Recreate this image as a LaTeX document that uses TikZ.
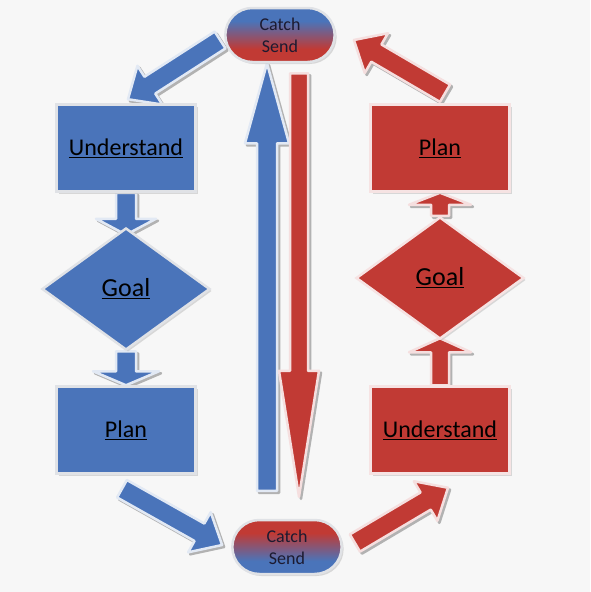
\documentclass[tikz,border=0pt]{standalone}
\usepackage{fontspec}
\setmainfont{Carlito}
\usetikzlibrary{calc,positioning,shapes.geometric,shapes.misc,shadows}

\definecolor{boxblue}{RGB}{74,116,186}
\definecolor{boxred}{RGB}{193,58,52}
\definecolor{edgegray}{RGB}{224,226,230}
\definecolor{inkdark}{RGB}{28,26,48}
\definecolor{paper}{RGB}{247,247,247}

\pgfdeclareverticalshading{bluetop}{100bp}{color(0bp)=(boxred); color(37bp)=(boxred);
  color(63bp)=(boxblue); color(100bp)=(boxblue)}
\pgfdeclareverticalshading{redtop}{100bp}{color(0bp)=(boxblue); color(37bp)=(boxblue);
  color(63bp)=(boxred); color(100bp)=(boxred)}

\pgfdeclarelayer{behind}
\pgfsetlayers{behind,main}

\tikzset{
  cardshadow/.style={drop shadow={shadow xshift=2pt,shadow yshift=-2pt,fill=gray!55}},
  stepcard/.style={rectangle, minimum width=139pt, minimum height=87pt,
    draw=edgegray, line width=2.5pt, cardshadow,
    font=\fontsize{24}{26}\selectfont, text=black},
  goalcard/.style={diamond, minimum width=168pt, minimum height=122pt, inner sep=0pt,
    draw=edgegray, line width=2.5pt, cardshadow,
    font=\fontsize{26}{28}\selectfont, text=black},
  catchpill/.style={rounded rectangle, minimum width=116pt, minimum height=54pt,
    draw=edgegray, line width=2.5pt, cardshadow, align=center,
    font=\fontsize{18}{22}\selectfont, text=inkdark},
}

% block arrow: colour, tail, tip, half shaft, half head, head length
\newcommand{\barrow}[6]{%
  \coordinate (ba) at #2;
  \coordinate (bb) at #3;
  \coordinate (bh) at ($(bb)!#6!(ba)$);
  \filldraw[gray!60, line width=2.5pt, line join=round,
    transform canvas={shift={(2pt,-2pt)}}]
    ($(ba)!#4!90:(bb)$) -- ($(bh)!#4!-90:(ba)$) -- ($(bh)!#5!-90:(ba)$) -- (bb)
    -- ($(bh)!#5!90:(ba)$) -- ($(bh)!#4!90:(ba)$) -- ($(ba)!#4!-90:(bb)$) -- cycle;
  \filldraw[fill=#1, draw=#1!16!white, line width=2.5pt, line join=round]
    ($(ba)!#4!90:(bb)$) -- ($(bh)!#4!-90:(ba)$) -- ($(bh)!#5!-90:(ba)$) -- (bb)
    -- ($(bh)!#5!90:(ba)$) -- ($(bh)!#4!90:(ba)$) -- ($(ba)!#4!-90:(bb)$) -- cycle;
}

\begin{document}
\begin{tikzpicture}[x=1pt,y=-1pt]
  \useasboundingbox (0,0) rectangle (590,592);

  % catch / send
  \node[catchpill, shading=bluetop] (c1) at (280,35) {Catch\\Send};
  \node[catchpill, shading=redtop] (c2) at (287,547) {Catch\\Send};

  % left column
  \node[stepcard, fill=boxblue] (u1) at (126,148) {\underline{Understand}};
  \node[goalcard, fill=boxblue] (g1) at (126,289) {\underline{Goal}};
  \node[stepcard, fill=boxblue] (p1) at (126,430) {\underline{Plan}};

  % right column
  \node[stepcard, fill=boxred, draw=boxred!14!white] (p2) at (440,148) {\underline{Plan}};
  \node[goalcard, fill=boxred, draw=boxred!14!white] (g2) at (440,278) {\underline{Goal}};
  \node[stepcard, fill=boxred, draw=boxred!14!white] (u2) at (440,430) {\underline{Understand}};

  \begin{pgfonlayer}{behind}
    \fill[paper] (0,0) rectangle (590,592);

    % long arrows in the middle
    \coordinate (upx) at ([xshift=-20pt]c2.north);
    \coordinate (dnx) at ([xshift=12pt]c2.north);
    \barrow{boxblue}{($(upx)+(0,-28)$)}{(upx |- c1.south)}{10pt}{22pt}{80pt}
    \barrow{boxred}{($(dnx |- c1.south)+(0,10)$)}{($(dnx)+(0,-22)$)}{9pt}{20pt}{126pt}

    % diagonal arrows
    \barrow{boxblue}{($(c1.west)+(-4,5)$)}{($(u1.north)+(2,-4)$)}{10pt}{23pt}{26pt}
    \barrow{boxred}{($(p2.north)+(5,-10)$)}{($(c1.east)+(18,5)$)}{10pt}{23pt}{26pt}
    \barrow{boxblue}{($(p1.south)+(-4,14)$)}{($(c2.west)+(-9,-2)$)}{10pt}{23pt}{26pt}
    \barrow{boxred}{($(c2.east)+(12,-4)$)}{($(u2.south)+(8,13)$)}{10pt}{23pt}{26pt}

    % short arrows between the cards
    \barrow{boxblue}{(u1.south)}{($(g1.north)+(0,8)$)}{10pt}{30pt}{16pt}
    \barrow{boxblue}{(g1.south)}{(p1.north)}{10pt}{33pt}{14pt}
    \barrow{boxred}{(g2.north)}{(p2.south)}{9pt}{31pt}{12pt}
    \barrow{boxred}{(u2.north)}{($(g2.south)+(0,-2)$)}{9pt}{31pt}{14pt}
  \end{pgfonlayer}
\end{tikzpicture}
\end{document}
